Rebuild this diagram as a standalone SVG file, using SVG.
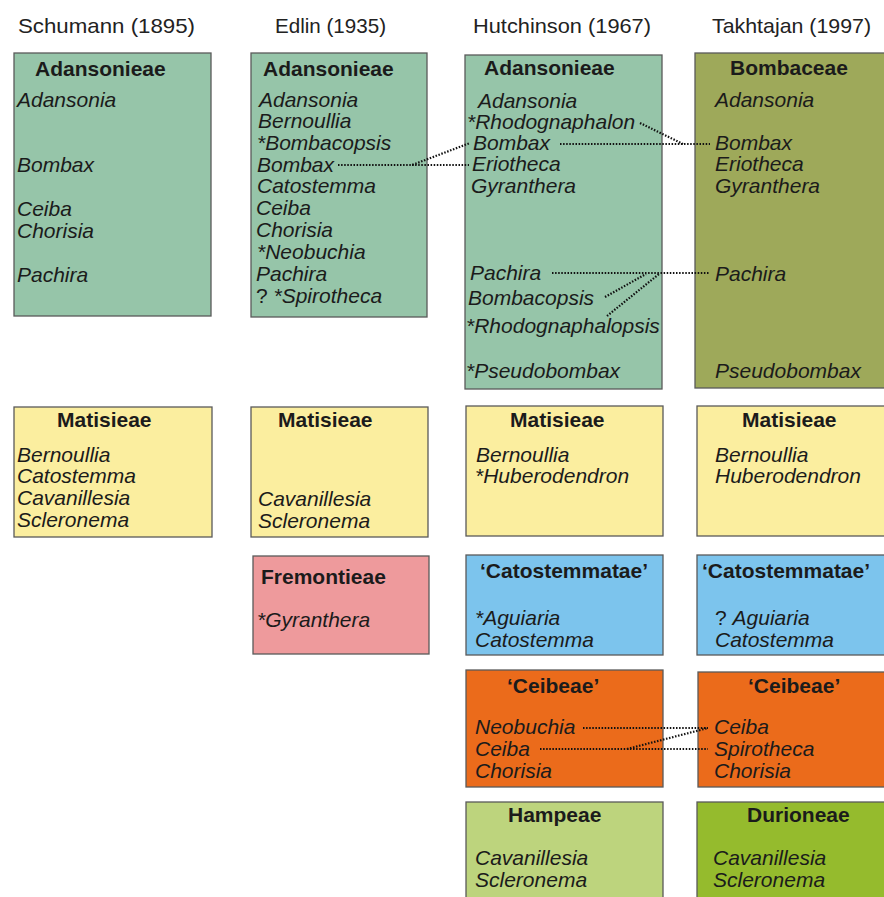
<svg xmlns="http://www.w3.org/2000/svg" width="884" height="897" viewBox="0 0 884 897">
<style>
.box{stroke:#5a5a5a;stroke-width:1.3}
.ad{fill:#96c5a9}.bo{fill:#9ea95a}.ma{fill:#fbee9f}.fr{fill:#ee9a9c}.ca{fill:#7cc4ed}.ce{fill:#eb6b1b}.ha{fill:#bdd47d}.du{fill:#95bb2d}
text{font-family:"Liberation Sans",Arial,sans-serif;fill:#1b1b1b}
.h{font-size:21px;fill:#222}
.t{font-size:21px;font-weight:bold}
.i{font-size:21px;font-style:italic}
.n{font-style:normal}
.dot{fill:none;stroke:#111;stroke-width:2.2;stroke-dasharray:1.5 1.6}
</style>
<g id="headers">
<text class="h" x="18" y="33" textLength="177" lengthAdjust="spacingAndGlyphs">Schumann (1895)</text>
<text class="h" x="275" y="33" textLength="111" lengthAdjust="spacingAndGlyphs">Edlin (1935)</text>
<text class="h" x="473" y="33" textLength="178" lengthAdjust="spacingAndGlyphs">Hutchinson (1967)</text>
<text class="h" x="712" y="33" textLength="159" lengthAdjust="spacingAndGlyphs">Takhtajan (1997)</text>
</g>
<g id="schumann-adansonieae">
<rect class="box ad" x="14" y="53" width="197" height="263"/>
<text class="t" x="35" y="76">Adansonieae</text>
<text class="i" x="17" y="107">Adansonia</text>
<text class="i" x="17" y="172">Bombax</text>
<text class="i" x="17" y="216">Ceiba</text>
<text class="i" x="17" y="238">Chorisia</text>
<text class="i" x="17" y="282">Pachira</text>
</g>
<g id="edlin-adansonieae">
<rect class="box ad" x="251" y="53" width="176" height="264"/>
<text class="t" x="263" y="76">Adansonieae</text>
<text class="i" x="259" y="107">Adansonia</text>
<text class="i" x="258" y="128">Bernoullia</text>
<text class="i" x="257" y="150">*Bombacopsis</text>
<text class="i" x="257" y="172">Bombax</text>
<text class="i" x="257" y="193">Catostemma</text>
<text class="i" x="256" y="215">Ceiba</text>
<text class="i" x="256" y="237">Chorisia</text>
<text class="i" x="257" y="259">*Neobuchia</text>
<text class="i" x="256" y="281">Pachira</text>
<text class="i" x="256" y="303"><tspan class="n">? </tspan>*Spirotheca</text>
</g>
<g id="hutchinson-adansonieae">
<rect class="box ad" x="465" y="55" width="197" height="334"/>
<text class="t" x="484" y="75">Adansonieae</text>
<text class="i" x="478" y="108">Adansonia</text>
<text class="i" x="467" y="129">*Rhodognaphalon</text>
<text class="i" x="473" y="150">Bombax</text>
<text class="i" x="472" y="171">Eriotheca</text>
<text class="i" x="471" y="193">Gyranthera</text>
<text class="i" x="470" y="280">Pachira</text>
<text class="i" x="468" y="305">Bombacopsis</text>
<text class="i" x="466" y="333">*Rhodognaphalopsis</text>
<text class="i" x="466" y="378">*Pseudobombax</text>
</g>
<g id="takhtajan-bombaceae">
<rect class="box bo" x="695" y="53" width="195" height="335"/>
<text class="t" x="730" y="75">Bombaceae</text>
<text class="i" x="715" y="107">Adansonia</text>
<text class="i" x="715" y="150">Bombax</text>
<text class="i" x="715" y="171">Eriotheca</text>
<text class="i" x="715" y="193">Gyranthera</text>
<text class="i" x="715" y="281">Pachira</text>
<text class="i" x="715" y="378">Pseudobombax</text>
</g>
<g id="schumann-matisieae">
<rect class="box ma" x="14" y="407" width="198" height="130"/>
<text class="t" x="57" y="427">Matisieae</text>
<text class="i" x="17" y="462">Bernoullia</text>
<text class="i" x="17" y="483">Catostemma</text>
<text class="i" x="17" y="505">Cavanillesia</text>
<text class="i" x="17" y="527">Scleronema</text>
</g>
<g id="edlin-matisieae">
<rect class="box ma" x="251" y="407" width="177" height="130"/>
<text class="t" x="278" y="427">Matisieae</text>
<text class="i" x="258" y="506">Cavanillesia</text>
<text class="i" x="258" y="528">Scleronema</text>
</g>
<g id="edlin-fremontieae">
<rect class="box fr" x="253" y="556" width="176" height="98"/>
<text class="t" x="261" y="584">Fremontieae</text>
<text class="i" x="257" y="627">*Gyranthera</text>
</g>
<g id="hutchinson-matisieae">
<rect class="box ma" x="466" y="406" width="197" height="130"/>
<text class="t" x="510" y="427">Matisieae</text>
<text class="i" x="476" y="462">Bernoullia</text>
<text class="i" x="475" y="483">*Huberodendron</text>
</g>
<g id="takhtajan-matisieae">
<rect class="box ma" x="697" y="406" width="193" height="130"/>
<text class="t" x="742" y="427">Matisieae</text>
<text class="i" x="715" y="462">Bernoullia</text>
<text class="i" x="715" y="483">Huberodendron</text>
</g>
<g id="hutchinson-catostemmatae">
<rect class="box ca" x="466" y="555" width="197" height="100"/>
<text class="t" x="480" y="578">‘Catostemmatae’</text>
<text class="i" x="475" y="625">*Aguiaria</text>
<text class="i" x="475" y="647">Catostemma</text>
</g>
<g id="takhtajan-catostemmatae">
<rect class="box ca" x="697" y="555" width="193" height="100"/>
<text class="t" x="702" y="578">‘Catostemmatae’</text>
<text class="i" x="715" y="625"><tspan class="n">? </tspan>Aguiaria</text>
<text class="i" x="715" y="647">Catostemma</text>
</g>
<g id="hutchinson-ceibeae">
<rect class="box ce" x="466" y="670" width="197" height="117"/>
<text class="t" x="507" y="693">‘Ceibeae’</text>
<text class="i" x="475" y="734">Neobuchia</text>
<text class="i" x="475" y="756">Ceiba</text>
<text class="i" x="475" y="778">Chorisia</text>
</g>
<g id="takhtajan-ceibeae">
<rect class="box ce" x="698" y="672" width="192" height="115"/>
<text class="t" x="748" y="693">‘Ceibeae’</text>
<text class="i" x="714" y="734">Ceiba</text>
<text class="i" x="714" y="756">Spirotheca</text>
<text class="i" x="714" y="778">Chorisia</text>
</g>
<g id="hutchinson-hampeae">
<rect class="box ha" x="466" y="802" width="197" height="100"/>
<text class="t" x="508" y="822">Hampeae</text>
<text class="i" x="475" y="865">Cavanillesia</text>
<text class="i" x="475" y="887">Scleronema</text>
</g>
<g id="takhtajan-durioneae">
<rect class="box du" x="697" y="802" width="193" height="100"/>
<text class="t" x="747" y="822">Durioneae</text>
<text class="i" x="713" y="865">Cavanillesia</text>
<text class="i" x="713" y="887">Scleronema</text>
</g>
<g id="connectors">
<path class="dot" d="M338 165 H412 L470 143"/>
<path class="dot" d="M412 165 H469"/>
<path class="dot" d="M560 144 H710"/>
<path class="dot" d="M640 123 L683 144"/>
<path class="dot" d="M552 273 H710"/>
<path class="dot" d="M605 297 L646 274"/>
<path class="dot" d="M607 316 L659 274"/>
<path class="dot" d="M583 728 H708"/>
<path class="dot" d="M540 749 H708"/>
<path class="dot" d="M627 749 L708 728"/>
</g>
</svg>
